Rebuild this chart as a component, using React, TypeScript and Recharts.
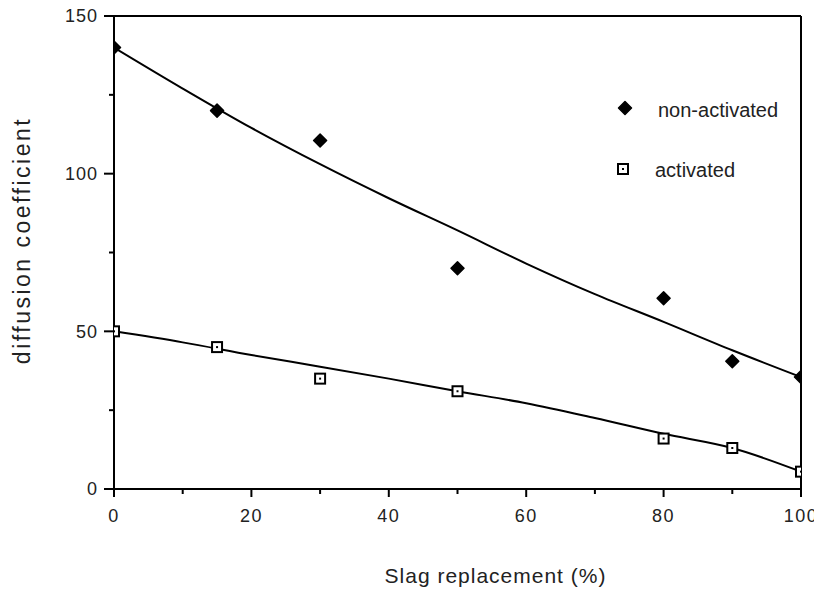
import React from "react";
import {
  ComposedChart,
  Line,
  Scatter,
  XAxis,
  YAxis,
  ReferenceLine,
} from "recharts";

// Measured data points
const slag = [0, 15, 30, 50, 80, 90, 100];
const nonActivated = [140, 120, 110.5, 70, 60.5, 40.5, 35.5];
const activated = [50, 45, 35, 31, 16, 13, 5.5];

// Fitted curves
const fitX = [0, 10, 20, 30, 40, 50, 60, 70, 80, 90, 100];
const nonActivatedFit = [140, 127, 114.5, 103, 92.2, 82, 71.5, 61.8, 53, 44, 35.5];
const activatedFit = [50, 46.5, 42.5, 38.8, 35, 31, 27.2, 22.5, 17.5, 13, 5.5];

// Ticks
const xTicks = [0, 10, 20, 30, 40, 50, 60, 70, 80, 90, 100];
const yTicks = [0, 25, 50, 75, 100, 125, 150];

const seriesNames = ["non-activated", "activated"];
const xTitle = "Slag replacement (%)";
const yTitle = "diffusion  coefficient";

const nonPts = slag.map((x, i) => ({ x, y: nonActivated[i] }));
const actPts = slag.map((x, i) => ({ x, y: activated[i] }));
const nonFitData = fitX.map((x, i) => ({ x, y: nonActivatedFit[i] }));
const actFitData = fitX.map((x, i) => ({ x, y: activatedFit[i] }));

const FONT = "'Liberation Sans', Arial, Helvetica, sans-serif";
const TICK_SIZE = 10;
const TICK_MARGIN = 6;

const Diamond = (props: any) => {
  const { cx, cy } = props;
  const r = 6.5;
  return (
    <polygon
      points={`${cx},${cy - r} ${cx + r},${cy} ${cx},${cy + r} ${cx - r},${cy}`}
      fill="#000"
      stroke="#000"
      strokeWidth={1.5}
      strokeLinejoin="round"
    />
  );
};

const OpenSquare = (props: any) => {
  const { cx, cy } = props;
  return (
    <g>
      <rect x={cx - 5} y={cy - 5} width={10} height={10} fill="#fff" stroke="#000" strokeWidth={2} />
      <rect x={cx - 1} y={cy - 1} width={2} height={2} fill="#000" />
    </g>
  );
};

const XTick = (props: any) => {
  const { x, y, payload } = props;
  const v = payload.value;
  const major = v % 20 === 0;
  const axisY = y - TICK_SIZE - TICK_MARGIN;
  return (
    <g>
      <line x1={x} x2={x} y1={axisY} y2={axisY + (major ? 8 : 5)} stroke="#000" strokeWidth={2} />
      {major && (
        <text
          x={x}
          y={axisY + 20}
          dy="0.71em"
          textAnchor="middle"
          fontFamily={FONT}
          fontSize={18}
          letterSpacing={1.5}
          fill="#222"
        >
          {v}
        </text>
      )}
    </g>
  );
};

const YTick = (props: any) => {
  const { x, y, payload } = props;
  const v = payload.value;
  const major = v % 50 === 0;
  const axisX = x + TICK_SIZE + TICK_MARGIN;
  return (
    <g>
      <line x1={axisX} x2={axisX - (major ? 10 : 5)} y1={y} y2={y} stroke="#000" strokeWidth={2} />
      {major && (
        <text
          x={axisX - 16}
          y={y}
          dy="0.35em"
          textAnchor="end"
          fontFamily={FONT}
          fontSize={18}
          letterSpacing={1}
          fill="#222"
        >
          {v}
        </text>
      )}
    </g>
  );
};

const XTitle = (props: any) => {
  const { viewBox } = props;
  const cx = viewBox.x + viewBox.width / 2 + 38;
  return (
    <text
      x={cx}
      y={viewBox.y + 94}
      textAnchor="middle"
      fontFamily={FONT}
      fontSize={21}
      letterSpacing={1}
      fill="#222"
    >
      {xTitle}
    </text>
  );
};

const YTitle = (props: any) => {
  const { viewBox } = props;
  const x = 22;
  const y = viewBox.y + viewBox.height / 2 - 12;
  return (
    <text
      x={x}
      y={y}
      transform={`rotate(-90, ${x}, ${y})`}
      textAnchor="middle"
      dy="0.35em"
      fontFamily={FONT}
      fontSize={23}
      letterSpacing={2.5}
      fill="#222"
    >
      {yTitle}
    </text>
  );
};

export default function App() {
  return (
    <div
      style={{
        position: "relative",
        width: 822,
        height: 591,
        margin: "-8px 0 0 -8px",
        background: "#fff",
      }}
    >
      <ComposedChart
        width={822}
        height={591}
        margin={{ top: 16, right: 21, left: 4, bottom: 8 }}
      >
        <XAxis
          dataKey="x"
          type="number"
          domain={[0, 100]}
          ticks={xTicks}
          interval={0}
          height={94}
          tickSize={TICK_SIZE}
          tickMargin={TICK_MARGIN}
          tickLine={false}
          tick={<XTick />}
          axisLine={{ stroke: "#000", strokeWidth: 2 }}
          label={<XTitle />}
          allowDataOverflow
        />
        <YAxis
          dataKey="y"
          type="number"
          domain={[0, 150]}
          ticks={yTicks}
          interval={0}
          width={110}
          tickSize={TICK_SIZE}
          tickMargin={TICK_MARGIN}
          tickLine={false}
          tick={<YTick />}
          axisLine={{ stroke: "#000", strokeWidth: 2 }}
          label={<YTitle />}
          allowDataOverflow
        />
        <ReferenceLine y={150} stroke="#000" strokeWidth={2} />
        <ReferenceLine x={100} stroke="#000" strokeWidth={2} />
        <Line
          data={nonFitData}
          dataKey="y"
          type="monotone"
          stroke="#000"
          strokeWidth={2}
          dot={false}
          activeDot={false}
          isAnimationActive={false}
        />
        <Line
          data={actFitData}
          dataKey="y"
          type="monotone"
          stroke="#000"
          strokeWidth={2}
          dot={false}
          activeDot={false}
          isAnimationActive={false}
        />
        <Scatter data={nonPts} dataKey="y" shape={<Diamond />} isAnimationActive={false} />
        <Scatter data={actPts} dataKey="y" shape={<OpenSquare />} isAnimationActive={false} />
      </ComposedChart>
      <div style={{ position: "absolute", left: 608, top: 88, width: 200, height: 100 }}>
        <svg width={200} height={100}>
          <Diamond cx={17} cy={20} />
          <text x={50} y={22} dy="0.35em" fontFamily={FONT} fontSize={20} fill="#222">
            {seriesNames[0]}
          </text>
          <OpenSquare cx={15} cy={81} />
          <text x={47} y={82} dy="0.35em" fontFamily={FONT} fontSize={20} fill="#222">
            {seriesNames[1]}
          </text>
        </svg>
      </div>
    </div>
  );
}
